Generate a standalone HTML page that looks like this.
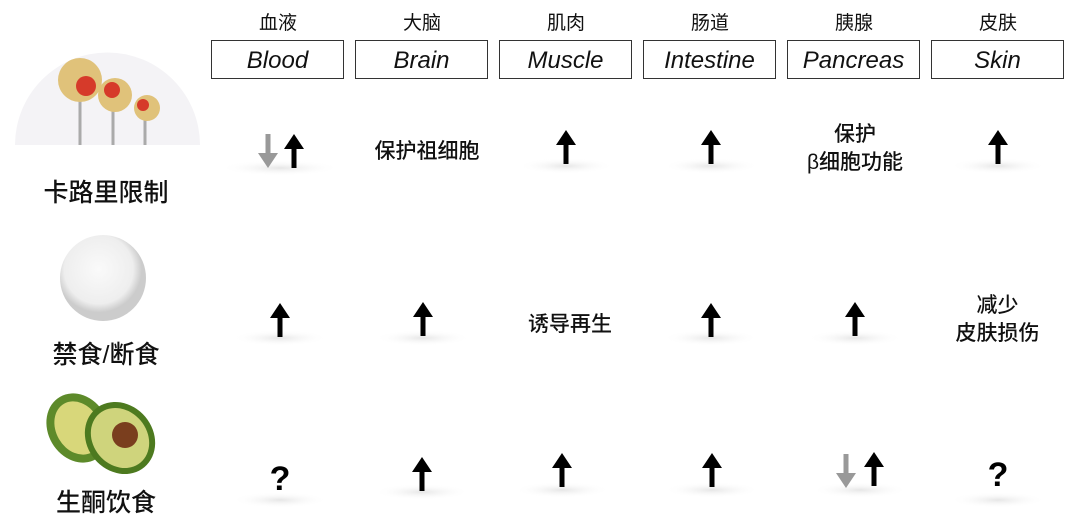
<!DOCTYPE html>
<html><head><meta charset="utf-8"><style>
body{margin:0;width:1080px;height:532px;background:#fff;overflow:hidden;position:relative;font-family:"Liberation Sans","Noto Sans CJK SC",sans-serif;}
.h{position:absolute;width:134px;text-align:center;font-size:19px;top:8px;color:#111}
.b{position:absolute;top:40px;width:131px;height:37px;border:1.5px solid #333;text-align:center;line-height:39px;font-style:italic;font-size:24px;color:#111}
.t{position:absolute;text-align:center;font-size:21px;font-weight:500;color:#111;line-height:28px}
.l{position:absolute;text-align:center;font-size:25px;font-weight:500;color:#111;width:210px}
</style></head><body>
<div class="h" style="left:211px">血液</div><div class="b" style="left:211px">Blood</div>
<div class="h" style="left:355px">大脑</div><div class="b" style="left:355px">Brain</div>
<div class="h" style="left:499px">肌肉</div><div class="b" style="left:499px">Muscle</div>
<div class="h" style="left:643px">肠道</div><div class="b" style="left:643px">Intestine</div>
<div class="h" style="left:787px">胰腺</div><div class="b" style="left:787px">Pancreas</div>
<div class="h" style="left:931px">皮肤</div><div class="b" style="left:931px">Skin</div>

<svg width="1080" height="532" style="position:absolute;left:0;top:0">
<defs>
<radialGradient id="sh"><stop offset="0" stop-color="#e6e6e6"/><stop offset="1" stop-color="#fff" stop-opacity="0"/></radialGradient>
<radialGradient id="pl" cx="0.45" cy="0.4"><stop offset="0" stop-color="#fafafa"/><stop offset="0.8" stop-color="#eee"/><stop offset="1" stop-color="#ccc"/></radialGradient>
<g id="up"><path d="M0 0 L10 15 L2.5 15 L2.5 34 L-2.5 34 L-2.5 15 L-10 15 Z" fill="#000"/></g>
<g id="dn"><path d="M0 34 L10 19 L2.5 19 L2.5 0 L-2.5 0 L-2.5 19 L-10 19 Z" fill="#999"/></g>
</defs>
<path d="M15 145 A92 92 0 0 1 200 145 Z" fill="#f4f3f6"/>
<g stroke="#aaa" stroke-width="3"><line x1="80" y1="100" x2="80" y2="145"/><line x1="113" y1="110" x2="113" y2="145"/><line x1="145" y1="120" x2="145" y2="145"/></g>
<circle cx="80" cy="80" r="22" fill="#e0c27a"/><circle cx="86" cy="86" r="10" fill="#d63a2a"/>
<circle cx="115" cy="95" r="17" fill="#e0c27a"/><circle cx="112" cy="90" r="8" fill="#d63a2a"/>
<circle cx="147" cy="108" r="13" fill="#e0c27a"/><circle cx="143" cy="105" r="6" fill="#d63a2a"/>
<circle cx="103" cy="278" r="43" fill="url(#pl)"/>
<ellipse cx="78" cy="428" rx="30" ry="36" transform="rotate(-30 78 428)" fill="#5d8a2a"/>
<ellipse cx="78" cy="428" rx="22" ry="28" transform="rotate(-30 78 428)" fill="#d8d77a"/>
<ellipse cx="120" cy="438" rx="33" ry="38" transform="rotate(-40 120 438)" fill="#4d7a1f"/>
<ellipse cx="120" cy="438" rx="27" ry="32" transform="rotate(-40 120 438)" fill="#cfd47c"/>
<circle cx="125" cy="435" r="13" fill="#7a3e1e"/>
<g fill="url(#sh)">
<ellipse cx="280" cy="168" rx="60" ry="8"/><ellipse cx="566" cy="166" rx="48" ry="8"/><ellipse cx="711" cy="166" rx="48" ry="8"/><ellipse cx="998" cy="166" rx="48" ry="8"/>
<ellipse cx="280" cy="338" rx="48" ry="8"/><ellipse cx="423" cy="338" rx="48" ry="8"/><ellipse cx="711" cy="338" rx="48" ry="8"/><ellipse cx="855" cy="338" rx="48" ry="8"/>
<ellipse cx="280" cy="500" rx="48" ry="8"/><ellipse cx="422" cy="492" rx="48" ry="8"/><ellipse cx="562" cy="490" rx="48" ry="8"/><ellipse cx="712" cy="490" rx="48" ry="8"/><ellipse cx="860" cy="490" rx="48" ry="8"/><ellipse cx="998" cy="500" rx="48" ry="8"/>
</g>
<use href="#dn" x="268" y="134"/><use href="#up" x="294" y="134"/>
<use href="#up" x="566" y="130"/><use href="#up" x="711" y="130"/><use href="#up" x="998" y="130"/>
<use href="#up" x="280" y="303"/><use href="#up" x="423" y="302"/><use href="#up" x="711" y="303"/><use href="#up" x="855" y="302"/>
<use href="#up" x="422" y="457"/><use href="#up" x="562" y="453"/><use href="#up" x="712" y="453"/>
<use href="#dn" x="846" y="454"/><use href="#up" x="874" y="452"/>
<text x="280" y="490" text-anchor="middle" font-family="Liberation Sans" font-weight="bold" font-size="34">?</text>
<text x="998" y="486" text-anchor="middle" font-family="Liberation Sans" font-weight="bold" font-size="34">?</text>
</svg>
<div class="t" style="left:356px;top:138px;width:142px">保护祖细胞</div>
<div class="t" style="left:788px;top:121px;width:134px">保护<br>β细胞功能</div>
<div class="t" style="left:500px;top:311px;width:140px">诱导再生</div>
<div class="t" style="left:930px;top:292px;width:135px">减少<br>皮肤损伤</div>
<div class="l" style="left:1px;top:173px">卡路里限制</div>
<div class="l" style="left:1px;top:335px">禁食/断食</div>
<div class="l" style="left:1px;top:483px">生酮饮食</div>
</body></html>
